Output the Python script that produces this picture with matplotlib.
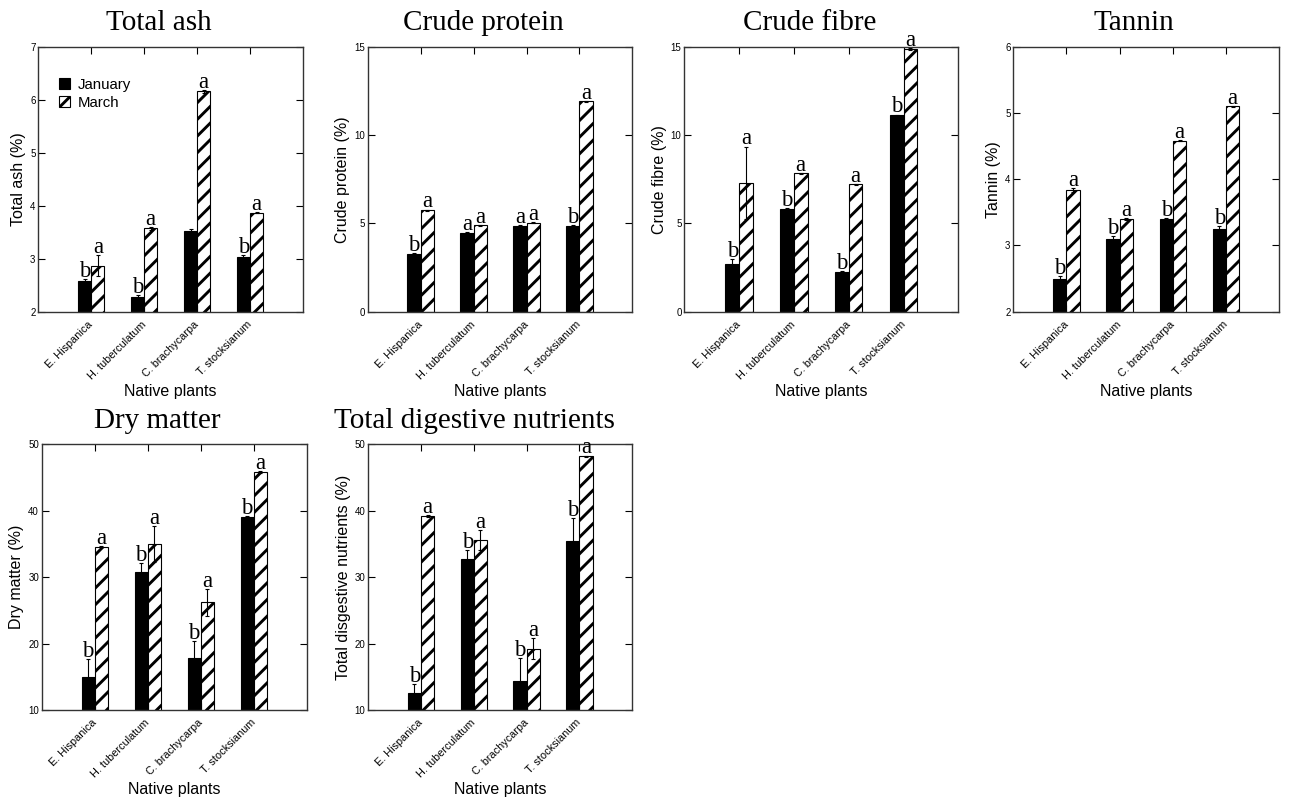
import matplotlib.pyplot as plt
import matplotlib.transforms as mtransforms
import numpy as np

plt.rcParams['font.family'] = ['Liberation Sans', 'DejaVu Sans']
plt.rcParams['hatch.linewidth'] = 2.1
plt.rcParams['hatch.color'] = 'black'

plants = ["E. Hispanica", "H. tuberculatum", "C. brachycarpa", "T. stocksianum"]

# Total ash
ash_jan = [2.57, 2.28, 3.53, 3.04]
ash_jan_err = [0.04, 0.04, 0.03, 0.03]
ash_mar = [2.87, 3.57, 6.16, 3.87]
ash_mar_err = [0.20, 0.02, 0.03, 0.01]
ash_jan_let = ["b", "b", "", "b"]
ash_mar_let = ["a", "a", "a", "a"]

# Crude protein
cp_jan = [3.25, 4.47, 4.85, 4.87]
cp_jan_err = [0.05, 0.04, 0.04, 0.04]
cp_mar = [5.75, 4.90, 5.04, 11.9]
cp_mar_err = [0.03, 0.03, 0.03, 0.03]
cp_jan_let = ["b", "a", "a", "b"]
cp_mar_let = ["a", "a", "a", "a"]

# Crude fibre
cf_jan = [2.68, 5.81, 2.26, 11.11]
cf_jan_err = [0.32, 0.05, 0.04, 0.05]
cf_mar = [7.30, 7.83, 7.20, 14.89]
cf_mar_err = [2.05, 0.04, 0.03, 0.05]
cf_jan_let = ["b", "b", "b", "b"]
cf_mar_let = ["a", "a", "a", "a"]

# Tannin
tan_jan = [2.49, 3.10, 3.40, 3.25]
tan_jan_err = [0.05, 0.04, 0.01, 0.04]
tan_mar = [3.84, 3.40, 4.58, 5.10]
tan_mar_err = [0.03, 0.01, 0.01, 0.01]
tan_jan_let = ["b", "b", "b", "b"]
tan_mar_let = ["a", "a", "a", "a"]

# Dry matter
dm_jan = [15.0, 30.8, 17.8, 39.1]
dm_jan_err = [2.7, 1.3, 2.6, 0.1]
dm_mar = [34.6, 35.0, 26.2, 45.8]
dm_mar_err = [0.1, 2.7, 2.0, 0.1]
dm_jan_let = ["b", "b", "b", "b"]
dm_mar_let = ["a", "a", "a", "a"]

# Total digestive nutrients
tdn_jan = [12.5, 32.8, 14.3, 35.4]
tdn_jan_err = [1.4, 1.3, 3.5, 3.5]
tdn_mar = [39.2, 35.6, 19.2, 48.2]
tdn_mar_err = [0.1, 1.5, 1.6, 0.1]
tdn_jan_let = ["b", "b", "b", "b"]
tdn_mar_let = ["a", "a", "a", "a"]

panels = [
    ("Total ash", "Total ash (%)", (2, 7), [2, 3, 4, 5, 6, 7],
     ash_jan, ash_jan_err, ash_mar, ash_mar_err, ash_jan_let, ash_mar_let),
    ("Crude protein", "Crude protein (%)", (0, 15), [0, 5, 10, 15],
     cp_jan, cp_jan_err, cp_mar, cp_mar_err, cp_jan_let, cp_mar_let),
    ("Crude fibre", "Crude fibre (%)", (0, 15), [0, 5, 10, 15],
     cf_jan, cf_jan_err, cf_mar, cf_mar_err, cf_jan_let, cf_mar_let),
    ("Tannin", "Tannin (%)", (2, 6), [2, 3, 4, 5, 6],
     tan_jan, tan_jan_err, tan_mar, tan_mar_err, tan_jan_let, tan_mar_let),
    ("Dry matter", "Dry matter (%)", (10, 50), [10, 20, 30, 40, 50],
     dm_jan, dm_jan_err, dm_mar, dm_mar_err, dm_jan_let, dm_mar_let),
    ("Total digestive nutrients", "Total disgestive nutrients (%)", (10, 50), [10, 20, 30, 40, 50],
     tdn_jan, tdn_jan_err, tdn_mar, tdn_mar_err, tdn_jan_let, tdn_mar_let),
]

# axes rectangles (figure fractions) and title x positions (axes fractions)
rects = [
    [0.0297, 0.6094, 0.2054, 0.3321],
    [0.2853, 0.6094, 0.2053, 0.3321],
    [0.5309, 0.6094, 0.2126, 0.3321],
    [0.7861, 0.6094, 0.2064, 0.3321],
    [0.0324, 0.1103, 0.2056, 0.3330],
    [0.2857, 0.1103, 0.2048, 0.3330],
]
title_x = [0.454, 0.436, 0.459, 0.454, 0.435, 0.402]

serif = ['Liberation Serif', 'DejaVu Serif']
fig = plt.figure(figsize=(12.89, 7.98), dpi=100)
shift = mtransforms.ScaledTranslation(12 / 72, 0, fig.dpi_scale_trans)

x = np.arange(1, len(plants) + 1)
w = 0.25

for i, (title, ylabel, ylim, yticks, jan, jan_err, mar, mar_err, jl, ml) in enumerate(panels):
    ax = fig.add_axes(rects[i])
    ax.bar(x - w / 2, jan, w, color='black', edgecolor='black', linewidth=0.8,
           label='January')
    ax.bar(x + w / 2, mar, w, color='white', edgecolor='black', linewidth=0.8,
           hatch='//', label='March')
    ax.errorbar(x - w / 2, jan, yerr=jan_err, fmt='none', ecolor='black',
                elinewidth=0.8, capsize=1.5, capthick=0.8, zorder=3)
    ax.errorbar(x + w / 2, mar, yerr=mar_err, fmt='none', ecolor='black',
                elinewidth=0.8, capsize=1.5, capthick=0.8, zorder=3)

    for k in range(len(plants)):
        for xx, yy, ee, lab in ((x[k] - w / 2, jan[k], jan_err[k], jl[k]),
                                (x[k] + w / 2, mar[k], mar_err[k], ml[k])):
            if lab:
                ax.annotate(lab, (xx, yy + ee), xytext=(0, 1.5), textcoords='offset points',
                            ha='center', va='baseline', fontsize=16.5, family=serif,
                            annotation_clip=False)

    ax.set_xlim(0, 5)
    ax.set_ylim(*ylim)
    ax.set_yticks(yticks)
    ax.set_xticks(x)
    ax.set_xticklabels(plants, rotation=45, ha='right', va='center',
                       rotation_mode='anchor', fontsize=7.8)
    for lbl in ax.get_xticklabels():
        lbl.set_transform(lbl.get_transform() + shift)
    ax.tick_params(axis='x', direction='in', top=True, length=5, width=0.8, pad=8)
    ax.tick_params(axis='y', direction='in', right=True, length=5, width=0.8,
                   labelsize=7, pad=2)
    for sp in ax.spines.values():
        sp.set_color('#333333')
        sp.set_linewidth(1.0)

    ax.set_ylabel(ylabel, fontsize=11.5, labelpad=3)
    ax.set_xlabel("Native plants", fontsize=11.5, labelpad=2)
    ax.set_title(title, family=serif, fontsize=21, x=title_x[i], pad=12)

    if i == 0:
        ax.legend(loc='upper left', bbox_to_anchor=(0.055, 0.905), frameon=False,
                  fontsize=10.8, handlelength=0.75, handleheight=0.7,
                  handletextpad=0.5, labelspacing=0.25, borderaxespad=0)

fig.savefig('out.png', dpi=100)
